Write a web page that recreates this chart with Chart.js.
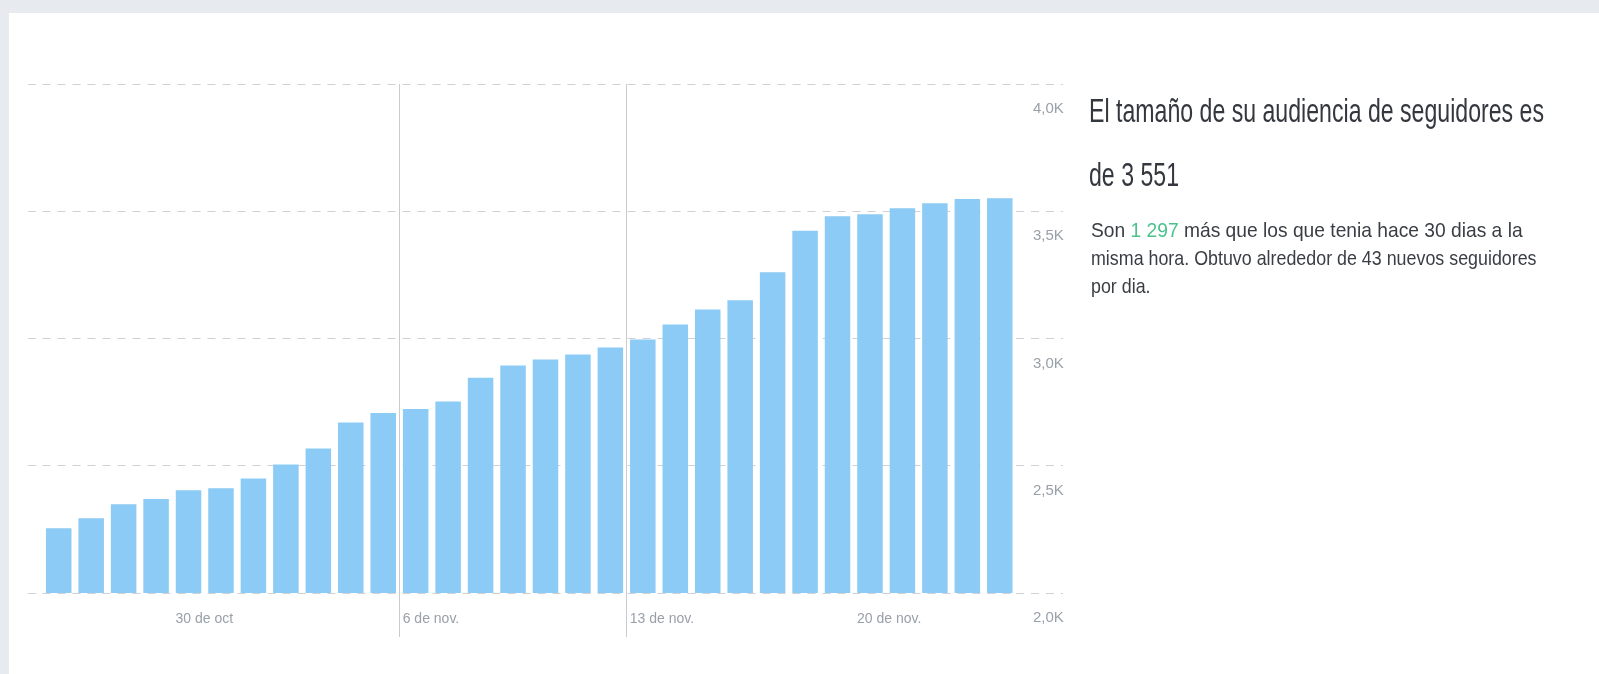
<!DOCTYPE html>
<html lang="es">
<head>
<meta charset="utf-8">
<title>Audiencia de seguidores</title>
<script src="https://cdn.jsdelivr.net/npm/chart.js@4/dist/chart.umd.min.js"></script>
<style>
  html, body { margin: 0; padding: 0; }
  body { width: 1599px; height: 674px; background: #e7eaef; position: relative; overflow: hidden;
         font-family: "Liberation Sans", Arial, sans-serif; }
  .card { position: absolute; left: 9px; top: 13px; right: 0; bottom: 0; background: #ffffff; }
  #chart { position: absolute; left: 0; top: 0; }
  .line { position: absolute; white-space: nowrap; transform-origin: 0 0; line-height: 1; }
  .title { font-size: 34px; color: #34383e; transform: scaleX(0.68); }
  .sub { font-size: 21px; color: #3a3e44; transform: scaleX(0.85); }
  .sub.wide { transform: scaleX(0.915); }
  .up { color: #4cc18c; }
</style>
</head>
<body>
<div class="card"></div>
<canvas id="chart" width="1100" height="674"></canvas>

<div class="line title" style="left:1089px; top:93px;">El tamaño de su audiencia de seguidores es</div>
<div class="line title" style="left:1089px; top:157px;">de <span id="total"></span></div>
<div class="line sub wide" style="left:1091px; top:219px;">Son <span class="up" id="gain"></span> más que los que tenia hace 30 dias a la</div>
<div class="line sub" style="left:1091px; top:247px;">misma hora. Obtuvo alrededor de <span id="perday"></span> nuevos seguidores</div>
<div class="line sub" style="left:1091px; top:275px;">por dia.</div>

<script>
// Daily follower counts, 26 Oct - 24 Nov
const days = [
  '26 de oct', '27 de oct', '28 de oct', '29 de oct', '30 de oct', '31 de oct',
  '1 de nov.', '2 de nov.', '3 de nov.', '4 de nov.', '5 de nov.', '6 de nov.',
  '7 de nov.', '8 de nov.', '9 de nov.', '10 de nov.', '11 de nov.', '12 de nov.',
  '13 de nov.', '14 de nov.', '15 de nov.', '16 de nov.', '17 de nov.', '18 de nov.',
  '19 de nov.', '20 de nov.', '21 de nov.', '22 de nov.', '23 de nov.', '24 de nov.'
];
const followers = [
  2254, 2294, 2349, 2369, 2404, 2412,
  2450, 2505, 2568, 2670, 2707, 2723,
  2752, 2846, 2894, 2917, 2937, 2965,
  2996, 3055, 3114, 3150, 3260, 3423,
  3480, 3488, 3512, 3531, 3548, 3551
];
const weekTicks = ['30 de oct', '6 de nov.', '13 de nov.', '20 de nov.'];
const weekLines = ['6 de nov.', '13 de nov.'];
const yTicks = [2000, 2500, 3000, 3500, 4000];

const gainedFollowers = 1297;
const followersPerDay = 43;

const fmtThousands = n => String(n).replace(/\B(?=(\d{3})+(?!\d))/g, ' ');
document.getElementById('total').textContent = fmtThousands(followers[followers.length - 1]);
document.getElementById('gain').textContent = fmtThousands(gainedFollowers);
document.getElementById('perday').textContent = followersPerDay;

const barColor = '#8ccbf5';
const gridColor = '#cfd1d4';
const lineColor = '#c9cbce';
const labelColor = '#9aa0a8';
const dash = [8, 7];
const yFont = { family: '"Liberation Sans", Arial, sans-serif', size: 15 };
const xFont = { family: '"Liberation Sans", Arial, sans-serif', size: 14 };

const kFormat = v => (v / 1000).toFixed(1).replace('.', ',') + 'K';

new Chart(document.getElementById('chart'), {
  type: 'bar',
  data: {
    labels: days,
    datasets: [{
      data: followers,
      backgroundColor: barColor,
      borderWidth: 0,
      barPercentage: 0.786,
      categoryPercentage: 1,
      yAxisID: 'y'
    }]
  },
  options: {
    responsive: false,
    animation: false,
    layout: { padding: { left: 28, right: 32, top: 84, bottom: 31 } },
    plugins: { legend: { display: false }, tooltip: { enabled: false } },
    scales: {
      x: {
        offset: true,
        border: { display: false },
        grid: {
          offset: true,
          lineWidth: 1,
          tickLength: 44,
          color: c => (c.type === 'tick' && weekLines.includes(days[c.index])) ? lineColor : 'rgba(0,0,0,0)'
        },
        ticks: {
          autoSkip: false,
          maxRotation: 0,
          minRotation: 0,
          align: 'start',
          labelOffset: -13,
          padding: -26,
          color: labelColor,
          font: xFont,
          callback: (v, i) => weekTicks.includes(days[i]) ? days[i] : ''
        },
        afterFit: s => { s.height = 50; }
      },
      y: {
        position: 'right',
        min: yTicks[0],
        max: yTicks[yTicks.length - 1],
        border: { display: false, dash: dash },
        grid: { color: gridColor, lineWidth: 1, tickLength: 47, tickBorderDash: dash },
        afterBuildTicks: s => { s.ticks = yTicks.map(v => ({ value: v })); },
        ticks: {
          padding: -30,
          labelOffset: 25,
          color: labelColor,
          font: yFont,
          callback: v => kFormat(v)
        },
        afterFit: s => { s.width = 52; }
      },
      yl: {
        position: 'left',
        min: yTicks[0],
        max: yTicks[yTicks.length - 1],
        border: { display: false, dash: dash },
        grid: { drawOnChartArea: false, color: gridColor, lineWidth: 1, tickLength: 14.5, tickBorderDash: dash },
        afterBuildTicks: s => { s.ticks = yTicks.map(v => ({ value: v })); },
        ticks: { display: false },
        afterFit: s => { s.width = 14.5; }
      }
    }
  }
});
</script>
</body>
</html>
